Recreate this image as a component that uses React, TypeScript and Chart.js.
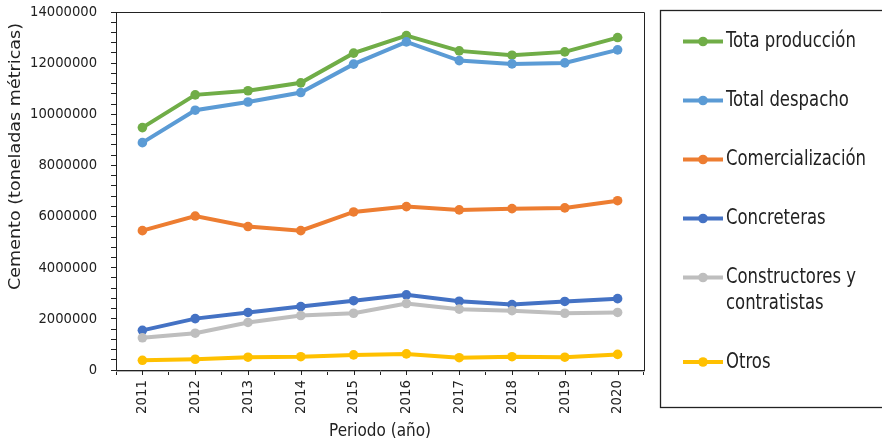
import React, { useEffect, useRef } from 'react';
import { Chart, registerables } from 'chart.js';

Chart.register(...registerables);

const years = ['2011', '2012', '2013', '2014', '2015', '2016', '2017', '2018', '2019', '2020'];
const totalProduccion = [9480000, 10760000, 10920000, 11230000, 12390000, 13080000, 12480000, 12310000, 12440000, 13000000];
const totalDespacho = [8890000, 10160000, 10480000, 10850000, 11960000, 12830000, 12100000, 11970000, 12010000, 12520000];
const comercializacion = [5450000, 6020000, 5610000, 5450000, 6180000, 6390000, 6260000, 6310000, 6340000, 6620000];
const concreteras = [1550000, 2010000, 2250000, 2480000, 2710000, 2940000, 2690000, 2560000, 2680000, 2790000];
const constructores = [1260000, 1440000, 1860000, 2130000, 2220000, 2600000, 2380000, 2320000, 2220000, 2250000];
const otros = [380000, 420000, 500000, 520000, 590000, 630000, 480000, 520000, 500000, 610000];

const seriesLabels = ['Tota producción', 'Total despacho', 'Comercialización', 'Concreteras', 'Constructores y contratistas', 'Otros'];
const seriesValues = [totalProduccion, totalDespacho, comercializacion, concreteras, constructores, otros];
const seriesColors = ['#70AD47', '#5B9BD5', '#ED7D31', '#4472C4', '#BEBEBE', '#FFC000'];

const yMin = 0;
const yMax = 14000000;
const yStep = 400000;
const yLabelStep = 2000000;
const xTitle = 'Periodo (año)';
const yTitle = 'Cemento (toneladas métricas)';

const FONT = "'DejaVu Sans Condensed', 'Liberation Sans Narrow', sans-serif";
const TEXT = '#222222';

function measure(text: string, size: number): number {
  const c = document.createElement('canvas').getContext('2d') as CanvasRenderingContext2D;
  c.font = `${size}px ${FONT}`;
  return c.measureText(text).width;
}
function fitSize(text: string, target: number): number {
  return (100 * target) / measure(text, 100);
}

const LEGEND_SIZE = 22;
const YTITLE_SIZE = 16.5;

const decorPlugin = {
  id: 'decor',
  afterDraw(chart: any) {
    const { ctx, chartArea: a } = chart;
    const xs = chart.scales.x;
    ctx.save();
    // frame top & right
    ctx.strokeStyle = '#222';
    ctx.lineWidth = 1;
    ctx.beginPath();
    ctx.moveTo(a.left, a.top + 0.5);
    ctx.lineTo(a.right + 0.5, a.top + 0.5);
    ctx.lineTo(a.right + 0.5, a.bottom);
    ctx.stroke();
    // gray shadow under x axis
    ctx.strokeStyle = '#b4b4b4';
    ctx.beginPath();
    ctx.moveTo(a.left, a.bottom + 1.5);
    ctx.lineTo(a.right + 1, a.bottom + 1.5);
    ctx.stroke();
    // centre ticks on x axis
    ctx.strokeStyle = '#222';
    ctx.beginPath();
    for (let i = 0; i < years.length; i++) {
      const px = Math.round(xs.getPixelForValue(i)) + 0.5;
      ctx.moveTo(px, a.bottom);
      ctx.lineTo(px, a.bottom + 5);
    }
    ctx.stroke();
    // y title (condensed horizontally to the reference length)
    ctx.fillStyle = TEXT;
    ctx.font = `${YTITLE_SIZE}px ${FONT}`;
    const tw = ctx.measureText(yTitle).width;
    const tsx = 267 / tw;
    ctx.textAlign = 'center';
    ctx.textBaseline = 'middle';
    ctx.translate(16, 156.5);
    ctx.rotate(-Math.PI / 2);
    ctx.scale(tsx, 1);
    ctx.fillText(yTitle, 0, 0);
    ctx.restore();

    // legend
    ctx.save();
    ctx.strokeStyle = '#222';
    ctx.lineWidth = 1.3;
    ctx.strokeRect(660.5, 10.5, 260, 397);
    ctx.font = `${LEGEND_SIZE}px ${FONT}`;
    const sx = 140 / ctx.measureText('Comercialización').width;
    ctx.textAlign = 'left';
    ctx.textBaseline = 'middle';
    let y = 41.5;
    const textX = 726;
    const maxW = 882 - textX - 8;
    chart.data.datasets.forEach((ds: any) => {
      const color = ds.borderColor;
      ctx.strokeStyle = color;
      ctx.lineWidth = 4;
      ctx.beginPath();
      ctx.moveTo(683, y);
      ctx.lineTo(723, y);
      ctx.stroke();
      ctx.fillStyle = color;
      ctx.beginPath();
      ctx.arc(703, y, 4.8, 0, Math.PI * 2);
      ctx.fill();
      const words = String(ds.label).split(' ');
      const lines: string[] = [];
      let cur = '';
      for (const w of words) {
        const test = cur ? cur + ' ' + w : w;
        if (cur && ctx.measureText(test).width * sx > maxW) {
          lines.push(cur);
          cur = w;
        } else {
          cur = test;
        }
      }
      if (cur) lines.push(cur);
      ctx.fillStyle = TEXT;
      lines.forEach((ln, k) => {
        ctx.save();
        ctx.translate(textX, y + k * 25.5);
        ctx.scale(sx, 1);
        ctx.fillText(ln, 0, 0);
        ctx.restore();
      });
      y += 59 + (lines.length - 1) * 25.5;
    });
    ctx.restore();
  },
};

export default function App() {
  const ref = useRef<HTMLCanvasElement | null>(null);
  useEffect(() => {
    if (!ref.current) return;
    Chart.defaults.font.family = FONT;
    Chart.defaults.color = TEXT;
    const ySize = fitSize('14000000', 67);
    const xSize = fitSize('2011', 34);
    const xtSize = fitSize(xTitle, 102);
    const n = seriesValues.length;
    const chart = new Chart(ref.current, {
      type: 'line',
      data: {
        labels: years,
        datasets: seriesValues.map((vals, i) => ({
          label: seriesLabels[i],
          data: vals,
          borderColor: seriesColors[i],
          backgroundColor: seriesColors[i],
          pointBackgroundColor: seriesColors[i],
          pointBorderColor: seriesColors[i],
          borderWidth: 4,
          pointRadius: 4.8,
          pointBorderWidth: 0,
          tension: 0,
          fill: false,
          order: n - 1 - i,
        })),
      },
      options: {
        animation: false,
        responsive: false,
        devicePixelRatio: 1,
        layout: { padding: { left: 0, top: 12, right: 238, bottom: 0 } },
        plugins: { legend: { display: false }, tooltip: { enabled: false }, title: { display: false } },
        scales: {
          x: {
            type: 'category',
            offset: true,
            afterFit: (s: any) => { s.height = 74; s.paddingLeft = 0; s.paddingRight = 0; },
            grid: { display: true, drawOnChartArea: false, drawTicks: true, tickLength: 5, offset: true, color: '#222' },
            border: { display: true, color: '#222', width: 1 },
            ticks: { autoSkip: false, minRotation: 90, maxRotation: 90, padding: 5, color: TEXT, font: { size: xSize, family: FONT } },
            title: { display: true, text: xTitle, color: TEXT, font: { size: xtSize, family: FONT }, padding: { top: 0, bottom: 2 } },
          },
          y: {
            type: 'linear',
            min: yMin,
            max: yMax,
            afterFit: (s: any) => { s.width = 116; s.paddingTop = 0; s.paddingBottom = 0; },
            grid: { display: true, drawOnChartArea: false, drawTicks: true, tickLength: 5, color: '#222' },
            border: { display: true, color: '#222', width: 1 },
            ticks: {
              stepSize: yStep,
              autoSkip: false,
              padding: 14,
              color: TEXT,
              font: { size: ySize, family: FONT },
              callback: (v: any) => (Math.round(Number(v)) % yLabelStep === 0 ? String(Math.round(Number(v))) : ''),
            },
          },
        },
      },
      plugins: [decorPlugin],
    });
    return () => chart.destroy();
  }, []);
  return (
    <div style={{ position: 'absolute', left: 0, top: 0, width: 882, height: 444, background: '#fff' }}>
      <canvas ref={ref} width={882} height={444} />
    </div>
  );
}
